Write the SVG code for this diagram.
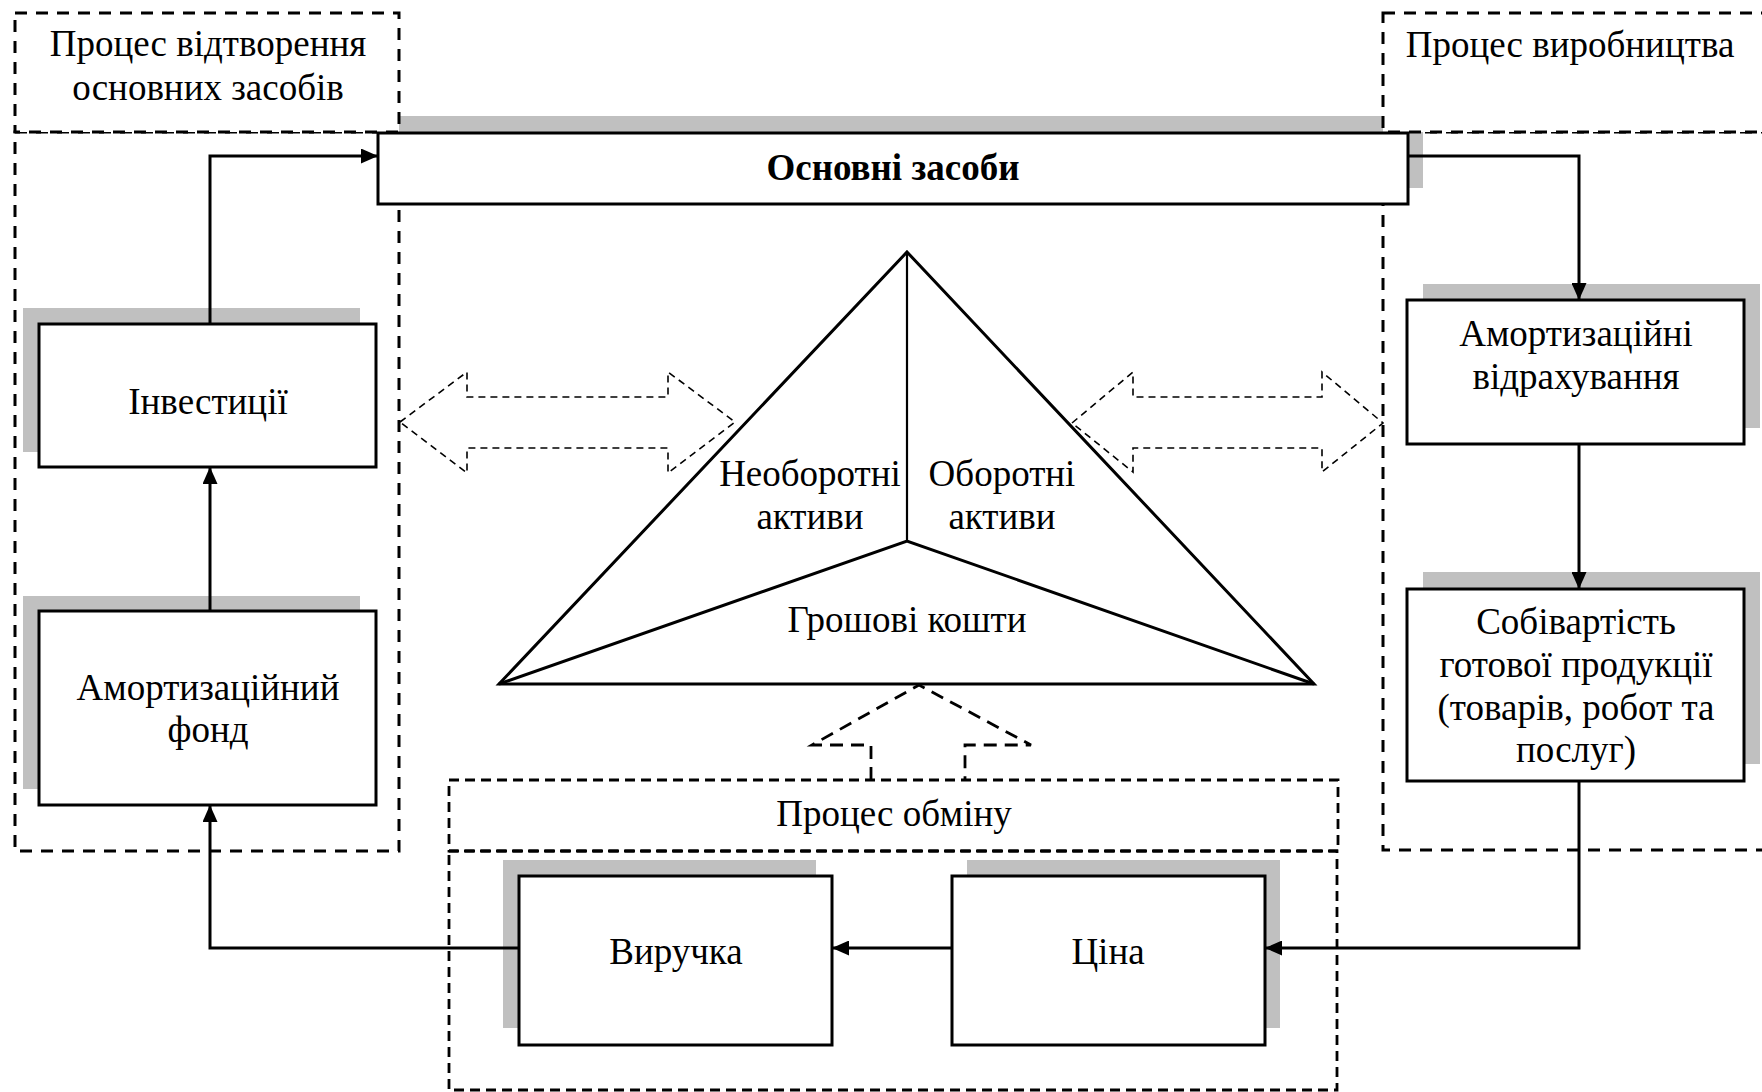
<svg xmlns="http://www.w3.org/2000/svg" width="1762" height="1092" viewBox="0 0 1762 1092">
<style>
.t{font-family:"Liberation Serif","Times New Roman",serif;font-size:37px;fill:#000;text-anchor:middle}
.b{font-weight:bold}
.box{fill:#fff;stroke:#000;stroke-width:3}
.sh{fill:#c0c0c0}
.reg{fill:none;stroke:#000;stroke-width:3;stroke-dasharray:12 9}
.lab{fill:#fff;stroke:#000;stroke-width:3;stroke-dasharray:12 9}
.exr{fill:none;stroke:#000;stroke-width:2.8;stroke-dasharray:10 6}
.dbl{fill:none;stroke:#000;stroke-width:1.6;stroke-dasharray:7 5}
.up{fill:none;stroke:#000;stroke-width:2.8;stroke-dasharray:13 8}
.c{fill:none;stroke:#000;stroke-width:3}
.tri{fill:none;stroke:#000;stroke-width:3;stroke-linejoin:miter}
</style>
<defs>
<marker id="ah" markerUnits="userSpaceOnUse" viewBox="0 0 17 15" markerWidth="17" markerHeight="15" refX="17" refY="7.5" orient="auto">
<path d="M0,0 L17,7.5 L0,15 z" fill="#000"/>
</marker>
</defs>

<g id="region-reproduction">
<rect class="reg" x="15" y="132" width="384" height="719"/>
</g>
<g id="region-production">
<rect class="reg" x="1383" y="132" width="390" height="718"/>
</g>

<g id="node-osnovni">
<rect class="sh" x="393" y="116" width="1030" height="72"/>
</g>

<g id="label-reproduction">
<rect class="lab" x="15" y="13" width="384" height="119"/>
<text class="t" x="208" y="56">Процес відтворення</text>
<text class="t" x="208" y="100">основних засобів</text>
</g>
<g id="label-production">
<rect class="lab" x="1383" y="13" width="390" height="119"/>
<text class="t" x="1570" y="57">Процес виробництва</text>
</g>

<g id="node-osnovni-box">
<rect class="box" x="378" y="133" width="1030" height="71"/>
<text class="t b" x="893" y="180">Основні засоби</text>
</g>

<g id="node-investytsii">
<rect class="sh" x="23" y="308" width="337" height="144"/>
<rect class="box" x="39" y="324" width="337" height="143"/>
<text class="t" x="208" y="414">Інвестиції</text>
</g>

<g id="node-amort-fund">
<rect class="sh" x="23" y="596" width="337" height="193"/>
<rect class="box" x="39" y="611" width="337" height="194"/>
<text class="t" x="208" y="700">Амортизаційний</text>
<text class="t" x="208" y="742">фонд</text>
</g>

<g id="node-amort-vidrakh">
<rect class="sh" x="1423" y="284" width="337" height="144"/>
<rect class="box" x="1407" y="300" width="337" height="144"/>
<text class="t" x="1576" y="346">Амортизаційні</text>
<text class="t" x="1576" y="389">відрахування</text>
</g>

<g id="node-sobivartist">
<rect class="sh" x="1423" y="572" width="337" height="192"/>
<rect class="box" x="1407" y="589" width="337" height="192"/>
<text class="t" x="1576" y="634">Собівартість</text>
<text class="t" x="1576" y="677">готової продукції</text>
<text class="t" x="1576" y="720">(товарів, робот та</text>
<text class="t" x="1576" y="762">послуг)</text>
</g>

<g id="region-exchange">
<rect class="exr" x="449" y="780" width="889" height="71"/>
<rect class="exr" x="449" y="851" width="888" height="239"/>
<text class="t" x="894" y="826">Процес обміну</text>
</g>

<g id="node-vyruchka">
<rect class="sh" x="503" y="860" width="313" height="168"/>
<rect class="box" x="519" y="876" width="313" height="169"/>
<text class="t" x="676" y="964">Виручка</text>
</g>

<g id="node-tsina">
<rect class="sh" x="967" y="860" width="313" height="168"/>
<rect class="box" x="952" y="876" width="313" height="169"/>
<text class="t" x="1108" y="964">Ціна</text>
</g>

<g id="node-triangle">
<polygon class="tri" points="907,252 1314,684 499,684"/>
<line x1="907" y1="252" x2="907" y2="541" stroke="#000" stroke-width="2.2"/>
<polyline class="tri" points="499,684 907,541 1314,684"/>
<text class="t" x="810" y="486">Необоротні</text>
<text class="t" x="810" y="529">активи</text>
<text class="t" x="1002" y="486">Оборотні</text>
<text class="t" x="1002" y="529">активи</text>
<text class="t" x="907" y="632">Грошові кошти</text>
</g>

<g id="connectors">
<polyline class="c" points="210,324 210,156 378,156" marker-end="url(#ah)"/>
<polyline class="c" points="210,611 210,467" marker-end="url(#ah)"/>
<polyline class="c" points="519,948 210,948 210,805" marker-end="url(#ah)"/>
<polyline class="c" points="1408,156 1579,156 1579,300" marker-end="url(#ah)"/>
<polyline class="c" points="1579,444 1579,589" marker-end="url(#ah)"/>
<polyline class="c" points="1579,781 1579,948 1265,948" marker-end="url(#ah)"/>
<polyline class="c" points="952,948 832,948" marker-end="url(#ah)"/>
<polygon class="dbl" points="400,422 467,372 467,397 668,397 668,372 735,422 668,473 668,448 467,448 467,473"/>
<polygon class="dbl" points="1072,423 1133,372 1133,397 1322,397 1322,372 1383,423 1322,472 1322,448 1133,448 1133,472"/>
<polyline class="up" points="871,780 871,745 812,745 919,685 1031,745 965,745 965,780"/>
</g>
</svg>
